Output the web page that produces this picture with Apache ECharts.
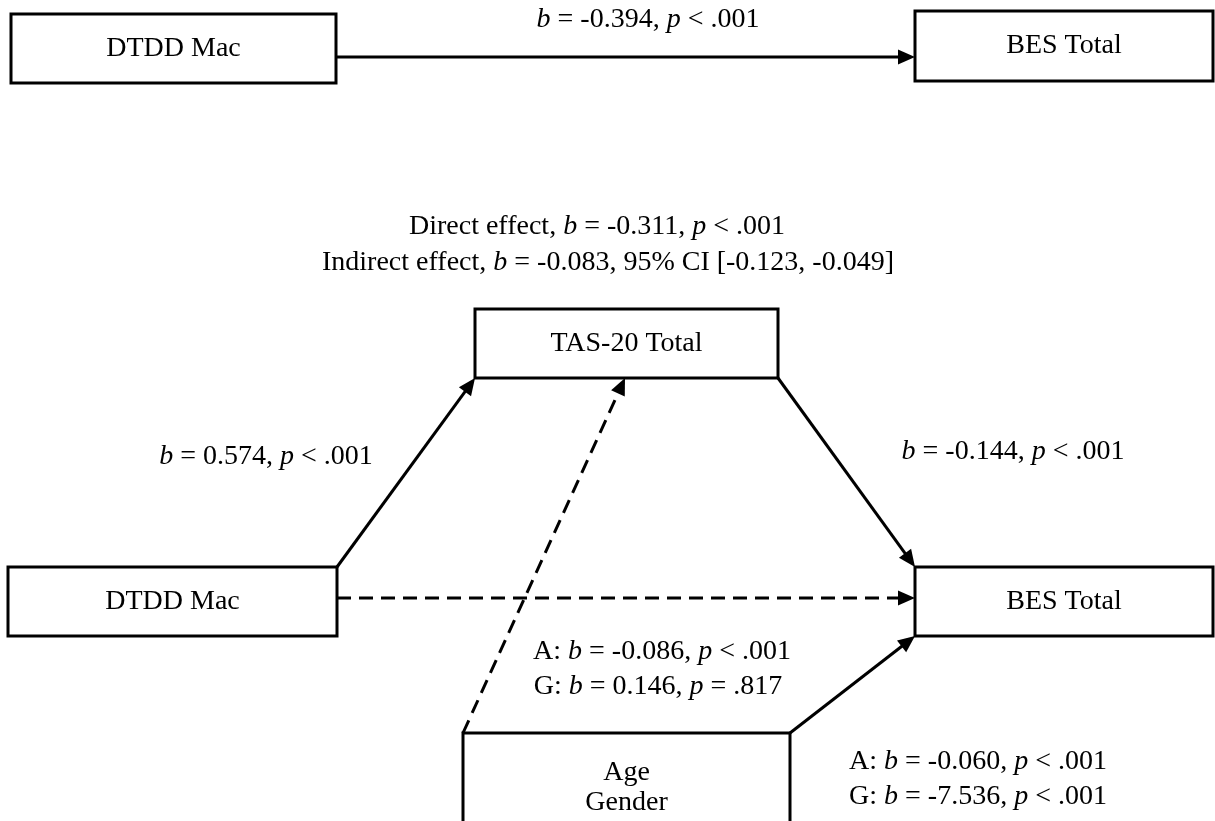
<!DOCTYPE html>
<html>
<head>
<meta charset="utf-8">
<script src="https://cdn.jsdelivr.net/npm/echarts@6/dist/echarts.min.js"></script>
<style>html,body{margin:0;padding:0;background:#fff}#c{width:1215px;height:821px}</style>
</head>
<body>
<div id="c"></div>
<script>
// ---- Diagram data ----
const boxNames  = ['DTDD Mac', 'BES Total', 'TAS-20 Total', 'DTDD Mac', 'BES Total', 'Age\nGender'];
const boxLeft   = [11, 915, 475, 8, 915, 463];
const boxTop    = [14, 11, 309, 567, 567, 733];
const boxRight  = [336, 1213, 778, 337, 1213, 790];
const boxBottom = [83, 81, 378, 636, 636, 843];

const arrowFromX = [336, 337, 778, 337, 463, 790];
const arrowFromY = [57, 567, 378, 598, 733, 733];
const arrowToX   = [915, 475, 915, 915, 625, 915];
const arrowToY   = [57, 378, 567, 598, 378, 636];
const arrowDashed = [0, 0, 0, 1, 1, 0];

const labelPrefix = ['', 'Direct effect, ', 'Indirect effect, ', '', '', 'A: ', 'G: ', 'A: ', 'G: '];
const labelB      = ['-0.394', '-0.311', '-0.083', '0.574', '-0.144', '-0.086', '0.146', '-0.060', '-7.536'];
const labelStat   = ['p < .001', 'p < .001', '95% CI [-0.123, -0.049]', 'p < .001', 'p < .001', 'p < .001', 'p = .817', 'p < .001', 'p < .001'];
const labelX = [648, 597, 608, 266, 1013, 662, 658, 978, 978];
const labelY = [20, 227, 263, 457, 452, 652, 687, 762, 797];

// ---- Build ----
const FONT = '"Liberation Serif", "Times New Roman", serif';
const FS = 28;

function statText(s) {
  if (s.startsWith('p ')) return '{i|p}' + s.slice(1);
  return s;
}
const labelTexts = labelB.map((b, i) => labelPrefix[i] + '{i|b} = ' + b + ', ' + statText(labelStat[i]));

const boxData = boxNames.map((n, i) => [boxLeft[i], boxTop[i], boxRight[i], boxBottom[i], i]);
const arrowData = arrowFromX.map((x, i) => [x, arrowFromY[i], arrowToX[i], arrowToY[i], arrowDashed[i]]);
const labelData = labelX.map((x, i) => [x, labelY[i], i]);

function renderBox(params, api) {
  const p0 = api.coord([api.value(0), api.value(1)]);
  const p1 = api.coord([api.value(2), api.value(3)]);
  const idx = api.value(4);
  return {
    type: 'group',
    children: [
      { type: 'rect', shape: { x: p0[0], y: p0[1], width: p1[0] - p0[0], height: p1[1] - p0[1] },
        style: { fill: '#fff', stroke: '#000', lineWidth: 3 } },
      { type: 'text', x: (p0[0] + p1[0]) / 2, y: (p0[1] + p1[1]) / 2,
        style: { text: boxNames[idx], align: 'center', verticalAlign: 'middle',
                 fontFamily: FONT, fontSize: FS, lineHeight: 30, fill: '#000' } }
    ]
  };
}

function renderArrow(params, api) {
  const a = api.coord([api.value(0), api.value(1)]);
  const b = api.coord([api.value(2), api.value(3)]);
  const dashed = api.value(4) === 1;
  const dx = b[0] - a[0], dy = b[1] - a[1];
  const L = Math.hypot(dx, dy);
  const ux = dx / L, uy = dy / L;
  const hl = 17, hw = 7.5;
  const base = [b[0] - ux * hl, b[1] - uy * hl];
  const px = -uy, py = ux;
  return {
    type: 'group',
    children: [
      { type: 'line', shape: { x1: a[0], y1: a[1], x2: base[0] + ux * 2, y2: base[1] + uy * 2 },
        style: { stroke: '#000', lineWidth: 3, lineDash: dashed ? [14, 8] : null } },
      { type: 'polygon', shape: { points: [b, [base[0] + px * hw, base[1] + py * hw], [base[0] - px * hw, base[1] - py * hw]] },
        style: { fill: '#000' } }
    ]
  };
}

function renderLabel(params, api) {
  const p = api.coord([api.value(0), api.value(1)]);
  const idx = api.value(2);
  return {
    type: 'text', x: p[0], y: p[1],
    style: {
      text: labelTexts[idx], align: 'center', verticalAlign: 'middle',
      fontFamily: FONT, fontSize: FS, fill: '#000',
      rich: { i: { fontFamily: FONT, fontSize: FS, fontStyle: 'italic', fill: '#000' } }
    }
  };
}

const chart = echarts.init(document.getElementById('c'));
chart.setOption({
  backgroundColor: '#fff',
  animation: false,
  grid: { left: 0, right: 0, top: 0, bottom: 0 },
  xAxis: { type: 'value', min: 0, max: 1215, show: false },
  yAxis: { type: 'value', min: 0, max: 821, inverse: true, show: false },
  series: [
    { type: 'custom', coordinateSystem: 'cartesian2d', renderItem: renderArrow, data: arrowData, z: 1, silent: true },
    { type: 'custom', coordinateSystem: 'cartesian2d', renderItem: renderBox, data: boxData, z: 2, silent: true },
    { type: 'custom', coordinateSystem: 'cartesian2d', renderItem: renderLabel, data: labelData, z: 3, silent: true }
  ]
});
</script>
</body>
</html>
